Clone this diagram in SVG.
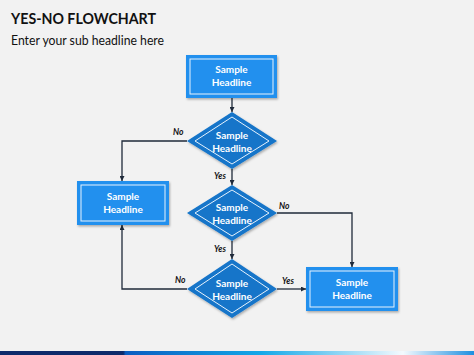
<svg xmlns="http://www.w3.org/2000/svg" width="474" height="355" viewBox="0 0 474 355">
<defs>
<marker id="arr" viewBox="0 0 6 6" refX="6" refY="3" markerWidth="5" markerHeight="5" orient="auto" markerUnits="userSpaceOnUse">
<path d="M0,0 L6,3 L0,6 z" fill="#1F2A3A"/>
</marker>
<linearGradient id="bar" x1="0" y1="0" x2="1" y2="0">
<stop offset="0" stop-color="#0D2A6B"/>
<stop offset="0.26" stop-color="#0D2A6B"/>
<stop offset="0.265" stop-color="#0A5CC0"/>
<stop offset="0.55" stop-color="#13A8E8"/>
<stop offset="0.85" stop-color="#F4FAFE"/>
<stop offset="1" stop-color="#1E8FE0"/>
</linearGradient>
<filter id="sh" x="-10%" y="-10%" width="130%" height="140%">
<feDropShadow dx="1" dy="1.5" stdDeviation="1.2" flood-color="#000" flood-opacity="0.3"/>
</filter>
</defs>
<style>
.box{fill:#2290EE;filter:url(#sh)}
.inner{fill:none;stroke:#E6F2FD;stroke-width:1}
.dia{fill:#1474C9;filter:url(#sh)}
.t{font-family:Lato,"Open Sans",sans-serif;font-size:10px;font-weight:bold;fill:#FFFFFF;text-anchor:middle}
.lbl{font-family:Lato,"Open Sans",sans-serif;font-size:8.5px;font-weight:bold;font-style:italic;fill:#111111}
.ln{fill:none;stroke:#1F2A3A;stroke-width:1.3;marker-end:url(#arr)}
</style>
<rect width="474" height="355" fill="#F2F2F2"/>
<text x="11" y="24" font-family="Lato,'Open Sans',sans-serif" font-size="16" font-weight="bold" fill="#111111" textLength="145" lengthAdjust="spacingAndGlyphs">YES-NO FLOWCHART</text>
<text x="11" y="45" font-family="Lato,'Open Sans',sans-serif" font-size="13" fill="#111111" textLength="153" lengthAdjust="spacingAndGlyphs">Enter your sub headline here</text>
<rect x="0" y="351" width="474" height="4" fill="url(#bar)"/>

<g id="connectors">
<path class="ln" d="M232,98 V112"/>
<path class="ln" d="M232,169 V185"/>
<path class="ln" d="M232,241 V259"/>
<path class="ln" d="M187,141 H122 V181"/>
<path class="ln" d="M277,213 H352 V267"/>
<path class="ln" d="M277,289 H306"/>
<path class="ln" d="M187,289 H122 V225"/>
<text class="lbl" x="173" y="135">No</text>
<text class="lbl" x="214" y="179">Yes</text>
<text class="lbl" x="279" y="209">No</text>
<text class="lbl" x="214" y="252">Yes</text>
<text class="lbl" x="175" y="283">No</text>
<text class="lbl" x="282" y="284">Yes</text>
</g>

<g id="start">
<rect class="box" x="186" y="55" width="91" height="43"/>
<rect class="inner" x="190" y="59" width="83" height="35"/>
<text class="t" x="231.5" y="73">Sample</text>
<text class="t" x="231.5" y="86">Headline</text>
</g>

<g id="decision1">
<polygon class="dia" points="232,112 277,141 232,169 187,141"/>
<polygon class="inner" points="232,117 269,141 232,164 195,141"/>
<text class="t" x="232" y="139">Sample</text>
<text class="t" x="232" y="152">Headline</text>
</g>

<g id="left">
<rect class="box" x="77" y="181" width="92" height="44"/>
<rect class="inner" x="81" y="185" width="84" height="36"/>
<text class="t" x="123" y="200">Sample</text>
<text class="t" x="123" y="213">Headline</text>
</g>

<g id="decision2">
<polygon class="dia" points="232,185 277,213 232,241 187,213"/>
<polygon class="inner" points="232,190 269,213 232,236 195,213"/>
<text class="t" x="232" y="211">Sample</text>
<text class="t" x="232" y="224">Headline</text>
</g>

<g id="decision3">
<polygon class="dia" points="232,259 277,289 232,318 187,289"/>
<polygon class="inner" points="232,264 269,289 232,313 195,289"/>
<text class="t" x="232" y="287">Sample</text>
<text class="t" x="232" y="300">Headline</text>
</g>

<g id="right">
<rect class="box" x="306" y="267" width="92" height="44"/>
<rect class="inner" x="310" y="271" width="84" height="36"/>
<text class="t" x="352" y="286">Sample</text>
<text class="t" x="352" y="299">Headline</text>
</g>
</svg>
